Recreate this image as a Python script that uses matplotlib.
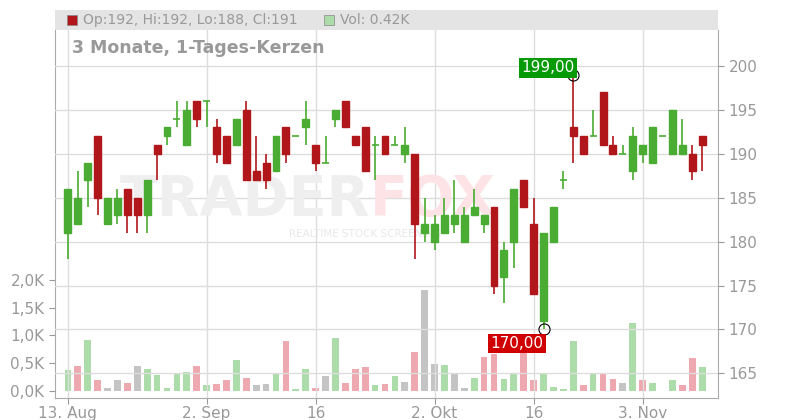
import matplotlib
matplotlib.use("Agg")
import matplotlib.pyplot as plt
from matplotlib.patches import Rectangle

opens  = [181,182,187,192,182,183,186,185,183,191,192,194,191,196,196,193,192,191,195,188,189,188,193,192,193,191,189,194,196,192,193,191,192,191,190,190,181,180,181,182,180,183,182,184,176,180,187,182,171,180,187,193,192,192,197,191,190,188,190,189,192,190,190,190,192]
closes = [186,185,189,185,185,185,183,183,187,190,193,194,195,194,196,190,189,194,187,187,187,192,190,192,194,189,189,195,193,191,188,191,190,191,191,182,182,182,183,183,183,184,183,175,179,186,184,174,181,184,187,192,190,192,191,190,190,192,191,193,192,195,191,188,191]
highs  = [186,188,189,192,185,186,186,185,187,191,193,196,196,196,196,194,192,194,196,192,190,192,193,192,196,191,192,195,196,192,193,192,192,192,193,190,185,183,185,187,184,186,183,184,180,186,187,185,181,184,188,199,192,195,197,192,191,193,191,193,192,195,194,191,192]
lows   = [178,182,184,183,182,182,181,181,181,187,191,193,191,193,193,189,189,191,187,187,186,188,189,192,191,188,189,193,193,191,188,187,190,191,189,178,180,179,181,181,180,183,181,174,173,177,184,174,170,180,186,189,190,192,191,190,190,187,189,189,192,190,190,187,188]
volumes = [0.38,0.45,0.92,0.20,0.05,0.20,0.15,0.45,0.40,0.28,0.05,0.33,0.35,0.45,0.10,0.12,0.20,0.55,0.23,0.10,0.12,0.33,
           0.90,0.04,0.40,0.06,0.27,0.95,0.15,0.40,0.44,0.10,0.13,0.27,0.17,0.70,1.82,0.49,0.47,0.33,0.06,0.24,0.62,
           0.67,0.22,0.30,0.76,0.19,0.33,0.08,0.04,0.90,0.11,0.30,0.30,0.22,0.15,1.23,0.19,0.15,0.0,0.20,0.10,0.60,0.44]
vol_colors = list("grgrkkrkgggggrgrrgrkkg" "rggrkgrrrgrgkrkkgkkgr" "rggrrgggg rgrrkgrgggrrg".replace(" ", ""))
date_pos = [0, 14, 25, 37, 47, 58]
date_labels = ["13. Aug", "2. Sep", "16", "2. Okt", "16", "3. Nov"]
price_ticks = [165, 170, 175, 180, 185, 190, 195, 200]
vol_ticks = [0, 0.5, 1.0, 1.5, 2.0]
vol_tick_labels = ["0,0K", "0,5K", "1,0K", "1,5K", "2,0K"]

W, H = 800, 420
fig = plt.figure(figsize=(W/100, H/100), dpi=100)
L, R, T, B = 55, 718, 30, 398
ax = fig.add_axes([L/W, 1-B/H, (R-L)/W, (B-T)/H])
axv = ax.twinx()
ax.set_zorder(2); axv.set_zorder(1); ax.patch.set_visible(False)
axv.patch.set_visible(True); axv.patch.set_facecolor("white")

xmin, xmax = -1.3, 65.6
ax.set_xlim(xmin, xmax)
ax.set_ylim(162.2, 204.1)
axv.set_ylim(-0.126, 6.5)

vcmap = {"g": "#acdcaa", "r": "#eea8b0", "k": "#c4c4c4"}
for i, v in enumerate(volumes):
    c = vcmap.get(vol_colors[i] if i < len(vol_colors) else "k")
    axv.bar(i, v, width=0.68, color=c, zorder=1)

green, red = "#4aac32", "#b0161a"
for i in range(len(opens)):
    o, c, h, l = opens[i], closes[i], highs[i], lows[i]
    col = green if c >= o else red
    ax.vlines(i, l, h, color=col, lw=1.2, zorder=3)
    if o == c:
        ax.hlines(o, i-0.35, i+0.35, color=col, lw=1.2, zorder=3)
    else:
        ax.add_patch(Rectangle((i-0.35, min(o, c)), 0.7, abs(c-o), color=col, zorder=4))

for p in price_ticks:
    ax.axhline(p, color="#dddddd", lw=1, zorder=0)
for d in date_pos:
    ax.axvline(d, color="#dddddd", lw=1, zorder=0)

ax.set_xticks(date_pos)
ax.set_xticklabels(date_labels)
ax.yaxis.tick_right()
ax.set_yticks(price_ticks)
ax.set_yticklabels([str(p) for p in price_ticks])
axv.yaxis.tick_left()
axv.set_yticks(vol_ticks)
axv.set_yticklabels(vol_tick_labels)
for a in (ax, axv):
    a.tick_params(colors="#999999", labelsize=11, length=4)
    for s in a.spines.values():
        s.set_visible(False)
ax.spines["bottom"].set_visible(True); ax.spines["bottom"].set_color("#aaaaaa")
ax.spines["right"].set_visible(True); ax.spines["right"].set_color("#aaaaaa")
axv.spines["left"].set_visible(True); axv.spines["left"].set_color("#aaaaaa")
ax.tick_params(axis="x", labelsize=11, labelcolor="#999999", pad=2)

# watermark
ax.text(30.5, 184.8, "TRADER", fontsize=40, fontweight="bold", color="#efefef",
        ha="right", va="center", zorder=1)
ax.text(30.5, 184.8, "FOX", fontsize=40, fontweight="bold", color="#fde3e6",
        ha="left", va="center", zorder=1)
ax.text(30, 180.9, "REALTIME STOCK SCREENING", fontsize=7.5, color="#e8e8e8",
        ha="center", va="center", zorder=1)

# high/low annotations
imax = highs.index(max(highs)); imin = lows.index(min(lows))
ax.plot(imax, max(highs), marker="o", ms=8, mfc="none", mec="black", mew=0.8, zorder=6)
ax.plot(imin, min(lows), marker="o", ms=8, mfc="none", mec="black", mew=0.8, zorder=6)
ax.text(imax-2.55, max(highs)+0.8, "199,00", color="white", fontsize=11, ha="center", va="center",
        bbox=dict(boxstyle="square,pad=0.15", fc="#079a07", ec="none"), zorder=7)
ax.text(imin-2.7, min(lows)-1.6, "170,00", color="white", fontsize=11, ha="center", va="center",
        bbox=dict(boxstyle="square,pad=0.15", fc="#d00000", ec="none"), zorder=7)

# header bar
fig.patches.append(Rectangle((L/W, 1-30/H), (R-L)/W, 20/H, transform=fig.transFigure,
                             fc="#e4e4e4", ec="none"))
fig.patches.append(Rectangle((67/W, 1-25/H), 10/W, 10/H, transform=fig.transFigure,
                             fc="#b0161a", ec="#888888", lw=0.5))
fig.text(83/W, 1-20/H, "Op:192, Hi:192, Lo:188, Cl:191", fontsize=10, color="#999999", va="center")
fig.patches.append(Rectangle((324/W, 1-25/H), 10/W, 10/H, transform=fig.transFigure,
                             fc="#acdcaa", ec="#888888", lw=0.5))
fig.text(340/W, 1-20/H, "Vol: 0.42K", fontsize=10, color="#999999", va="center")
fig.text(72/W, 1-48/H, "3 Monate, 1-Tages-Kerzen", fontsize=12.5, fontweight="bold",
         color="#999999", va="center")

fig.savefig("out.png", dpi=100)
